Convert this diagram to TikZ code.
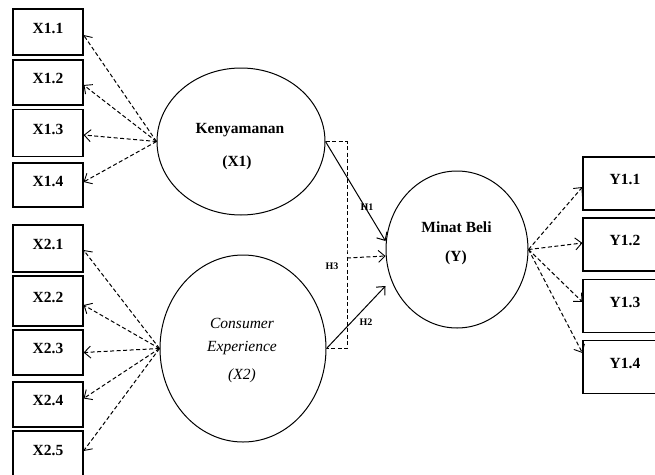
\documentclass[tikz,border=0pt]{standalone}
\usepackage{fontspec}
\setmainfont{Liberation Serif}
\usetikzlibrary{shapes.geometric,arrows.meta}
\begin{document}
\begin{tikzpicture}[x=1pt,y=-1pt,
  box/.style={draw,line width=1.1pt,minimum width=70pt,inner sep=0pt,
    font=\fontsize{15.5}{18}\selectfont\bfseries,text height=11pt,text depth=9pt},
  ybox/.style={box,minimum width=84pt,minimum height=53pt},
  latent/.style={draw,ellipse,line width=1pt,inner sep=0pt},
  ltxt/.style={anchor=base,inner sep=0pt,font=\fontsize{15.5}{18}\selectfont\bfseries},
  itxt/.style={anchor=base,inner sep=0pt,font=\fontsize{15.5}{18}\selectfont\itshape},
  htxt/.style={inner sep=0pt,font=\fontsize{10}{11}\selectfont\bfseries},
  ind/.style={line width=1pt,dash pattern=on 4pt off 2.5pt,-{Straight Barb[length=6.5pt,width=12pt,line width=0.9pt]}},
  path/.style={line width=1pt,-{Straight Barb[length=6.5pt,width=12pt,line width=1pt]}},
  hbox/.style={line width=1pt,dash pattern=on 4pt off 2.5pt}]
\useasboundingbox (0,0) rectangle (655,474);
\clip (0,0) rectangle (655,474);

% indicator boxes X1
\node[box,minimum height=46pt] (x11) at (48,32) {X1.1};
\node[box,minimum height=45pt] (x12) at (48,82.5) {X1.2};
\node[box,minimum height=47pt] (x13) at (48,133) {X1.3};
\node[box,minimum height=44pt] (x14) at (48,185) {X1.4};
% indicator boxes X2
\node[box,minimum height=47pt] (x21) at (48,248.5) {X2.1};
\node[box,minimum height=50pt] (x22) at (48,301) {X2.2};
\node[box,minimum height=45pt] (x23) at (48,352.5) {X2.3};
\node[box,minimum height=45pt] (x24) at (48,404.5) {X2.4};
\node[box,minimum height=46pt] (x25) at (48,454) {X2.5};
% indicator boxes Y
\node[ybox] (y11) at (625,183.5) {Y1.1};
\node[ybox] (y12) at (625,244.5) {Y1.2};
\node[ybox] (y13) at (625,306) {Y1.3};
\node[ybox] (y14) at (625,367) {Y1.4};

% latent variables
\node[latent,minimum width=168pt,minimum height=147pt] (X1) at (241,141.5) {};
\node[latent,minimum width=166pt,minimum height=187pt] (X2) at (243,348.5) {};
\node[latent,minimum width=142pt,minimum height=157pt] (Y) at (457,249.5) {};

\node[ltxt] (X1a) at (240,133) {Kenyamanan};
\node[ltxt] (X1b) at (237,166) {(X1)};
\node[itxt] (X2a) at (242,328) {Consumer};
\node[itxt] (X2b) at (242,351) {Experience};
\node[itxt] (X2c) at (242,379) {(X2)};
\node[ltxt] (Ya) at (456.5,232) {Minat Beli};
\node[ltxt] (Yb) at (456,261) {(Y)};

% indicator arrows
\draw[ind] (X1.west) -- ([yshift=-3pt]x11.east);
\draw[ind] (X1.west) -- ([yshift=-2.5pt]x12.east);
\draw[ind] (X1.west) -- ([yshift=-2pt]x13.east);
\draw[ind] (X1.west) -- ([yshift=3pt]x14.east);

\draw[ind] (X2.west) -- ([yshift=-1.5pt]x21.east);
\draw[ind] (X2.west) -- ([yshift=-4pt]x22.east);
\draw[ind] (X2.west) -- ([yshift=0pt]x23.east);
\draw[ind] (X2.west) -- ([yshift=6pt]x24.east);
\draw[ind] (X2.west) -- ([yshift=3pt]x25.east);

\draw[ind] (Y.east) -- ([yshift=-3.5pt]y11.west);
\draw[ind] (Y.east) -- ([yshift=1.5pt]y12.west);
\draw[ind] (Y.east) -- ([yshift=4pt]y13.west);
\draw[ind] (Y.east) -- ([yshift=14pt]y14.west);

% moderation bracket
\coordinate (rc) at (347,250);
\draw[hbox] (X1.east) -| (rc) |- (X2.east);
\coordinate (h3s) at (347,258);

% structural paths
\draw[path] (X1.east) -- ([yshift=8.5pt]Y.west);
\draw[path] (X2.east) -- ([yshift=-36.5pt]Y.west);
\draw[ind] (h3s) -- ([yshift=-6.5pt]Y.west);

\node[htxt] (H1) at (367,207) {H1};
\node[htxt] (H2) at (366,322) {H2};
\node[htxt] (H3) at (332,266) {H3};
\end{tikzpicture}
\end{document}
